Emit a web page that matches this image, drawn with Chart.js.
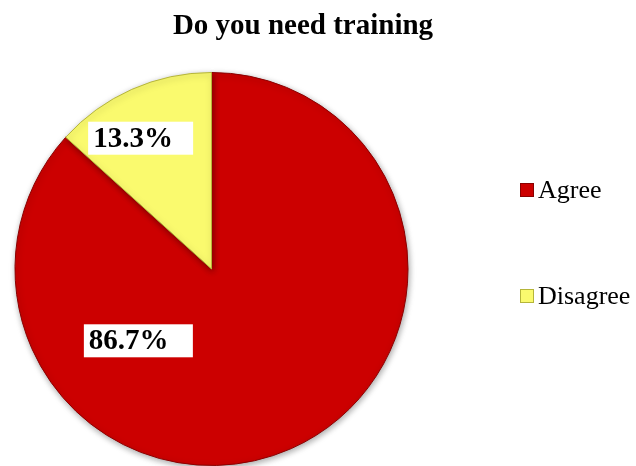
<!DOCTYPE html>
<html lang="en">
<head>
    <meta charset="UTF-8">
    <title>Do you need training</title>
    <script src="https://cdn.jsdelivr.net/npm/chart.js"></script>
    <style>
        html, body { margin: 0; padding: 0; background: #ffffff; }
        #wrap { width: 636px; height: 466px; }
    </style>
</head>
<body>
<div id="wrap">
    <canvas id="pieChart" width="636" height="466"></canvas>
</div>

<script>
    // chart data
    const chartTitle = 'Do you need training';
    const categories = ['Agree', 'Disagree'];
    const percentages = [86.7, 13.3];
    const percentLabels = ['86.7%', '13.3%'];

    // styling
    const sliceColors = ['#CC0000', '#FAFA6E'];
    const edgeColors = ['#8A0000', '#B5B53A'];
    const serif = '"Liberation Serif", "Times New Roman", serif';

    // white label boxes, placed relative to each slice's middle point
    const labelBoxes = [
        { dx: -113, dy: -18, w: 109, h: 33 },
        { dx: -31, dy: -41, w: 105, h: 33 }
    ];

    function sliceFill(context) {
        const chart = context.chart;
        const area = chart.chartArea;
        if (!area) return sliceColors[context.dataIndex];
        const meta = chart.getDatasetMeta(0);
        const arc = meta.data[context.dataIndex];
        if (!arc || !arc.outerRadius) return sliceColors[context.dataIndex];
        const g = chart.ctx.createRadialGradient(arc.x, arc.y, 0, arc.x, arc.y, arc.outerRadius);
        g.addColorStop(0, sliceColors[context.dataIndex]);
        g.addColorStop(0.95, sliceColors[context.dataIndex]);
        g.addColorStop(1, edgeColors[context.dataIndex]);
        return g;
    }

    const shadowPlugin = {
        id: 'pieShadow',
        beforeDatasetsDraw(chart) {
            const ctx = chart.ctx;
            ctx.save();
            ctx.shadowColor = 'rgba(0,0,0,0.35)';
            ctx.shadowBlur = 6;
            ctx.shadowOffsetX = 1;
            ctx.shadowOffsetY = 2;
        },
        afterDatasetsDraw(chart) {
            chart.ctx.restore();
        }
    };

    const textPlugin = {
        id: 'chartText',
        afterDraw(chart) {
            const ctx = chart.ctx;
            const arcs = chart.getDatasetMeta(0).data;
            ctx.save();

            // title
            ctx.fillStyle = '#000000';
            ctx.font = 'bold 29px ' + serif;
            ctx.textAlign = 'center';
            ctx.textBaseline = 'middle';
            ctx.fillText(chartTitle, 303, 27);

            // percentage labels
            ctx.font = 'bold 29px ' + serif;
            ctx.textAlign = 'left';
            arcs.forEach((arc, i) => {
                const p = arc.tooltipPosition();
                const b = labelBoxes[i];
                const left = p.x + b.dx - b.w / 2;
                const top = p.y + b.dy - b.h / 2;
                ctx.fillStyle = '#ffffff';
                ctx.fillRect(left, top, b.w, b.h);
                ctx.fillStyle = '#000000';
                ctx.fillText(percentLabels[i], left + 5, top + b.h / 2 + 1);
            });

            // legend
            ctx.font = '26px ' + serif;
            categories.forEach((name, i) => {
                const y = 190 + i * 106;
                ctx.fillStyle = sliceColors[i];
                ctx.fillRect(520, y - 7, 14, 14);
                ctx.strokeStyle = edgeColors[i];
                ctx.lineWidth = 1;
                ctx.strokeRect(520.5, y - 6.5, 13, 13);
                ctx.fillStyle = '#000000';
                ctx.fillText(name, 538, y + 1);
            });
            ctx.restore();
        }
    };

    const ctx = document.getElementById('pieChart').getContext('2d');
    const pieChart = new Chart(ctx, {
        type: 'pie',
        data: {
            labels: categories,
            datasets: [{
                data: percentages,
                backgroundColor: sliceFill,
                borderColor: edgeColors,
                borderWidth: 1,
                hoverOffset: 0
            }]
        },
        options: {
            responsive: false,
            animation: false,
            layout: {
                padding: { left: 13, right: 226, top: 72, bottom: 0 }
            },
            plugins: {
                legend: { display: false },
                title: { display: false },
                tooltip: { enabled: false }
            }
        },
        plugins: [shadowPlugin, textPlugin]
    });
</script>
</body>
</html>
